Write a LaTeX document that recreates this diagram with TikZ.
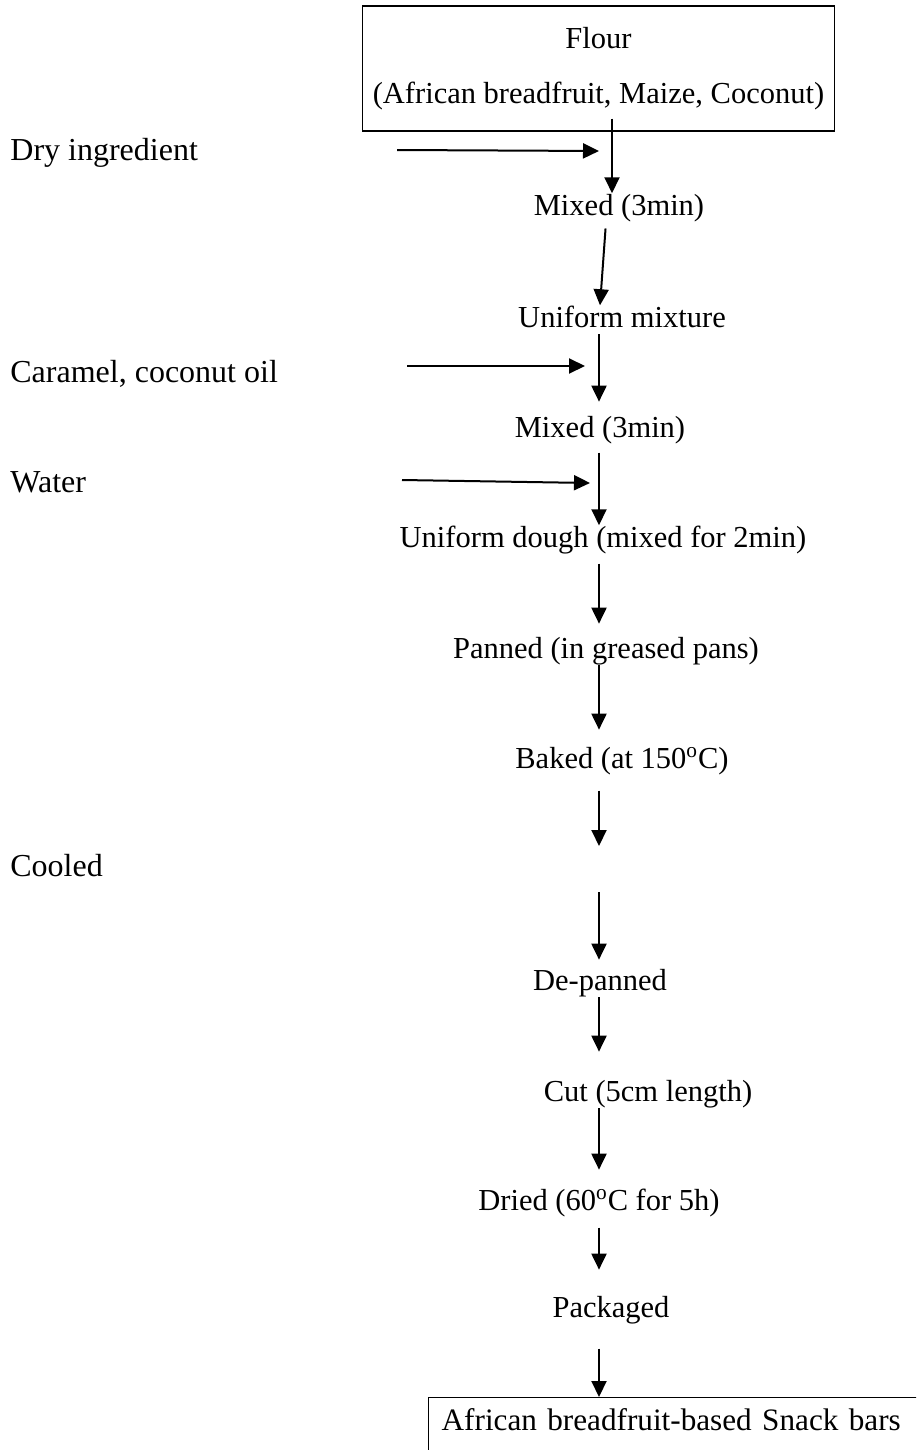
\documentclass[tikz,border=0pt]{standalone}
\usepackage{fontspec}
\setmainfont{Liberation Serif}
\usetikzlibrary{arrows.meta,positioning,calc}

\begin{document}
\fontsize{15.25}{18}\selectfont
\begin{tikzpicture}[x=0.5pt, y=-0.5pt,
  stage/.style={inner sep=0pt, text height=0.7em, text depth=0.22em, anchor=base},
  side/.style={inner sep=0pt, anchor=base west, font=\fontsize{16}{18}\selectfont},
  flow/.style={-{Triangle[length=8pt,width=7.5pt]}, line width=1pt}]
  \useasboundingbox (0,0) rectangle (916,1450);
  \clip (0,0) rectangle (916,1450);

  % Flour
  \node[draw, line width=0.7pt, minimum width=227.5pt, minimum height=62.5pt, align=center,
        font=\fontsize{15.25}{27.5}\selectfont] (flour) at (598.5,68.5)
        {Flour\\(African breadfruit, Maize, Coconut)};

  % Steps
  \node[stage] (mixA)  at (619,215)  {Mixed (3min)};
  \node[stage] (uniA)  at (622,327)  {Uniform mixture};
  \node[stage] (mixB)  at (600,437)  {Mixed (3min)};
  \node[stage] (dough) at (603,547)  {Uniform dough (mixed for 2min)};
  \node[stage] (pan)   at (606,658)  {Panned (in greased pans)};
  \node[stage] (bake)  at (622,768)  {Baked (at 150\textsuperscript{o}C)};
  \node[stage] (depan) at (600,990)  {De-panned};
  \node[stage] (cut)   at (648,1101) {Cut (5cm length)};
  \node[stage] (dried) at (599,1210) {Dried (60\textsuperscript{o}C for 5h)};
  \node[stage] (pack)  at (611,1317) {Packaged};

  % Snack bars
  \node[draw, line width=0.7pt, anchor=north west, inner xsep=6.5pt, inner ysep=5.4pt,
        text width=247pt, text depth=30pt, align=left, font=\fontsize{15.6}{18}\selectfont]
        (snack) at (428,1397) {African breadfruit-based Snack bars};

  % Side inputs
  \node[side] (dryin)   at (10,160) {Dry ingredient};
  \node[side] (caramel) at (10,382) {Caramel, coconut oil};
  \node[side] (water)   at (10,492) {Water};
  \node[side] (cool)    at (10,876) {Cooled};

  \coordinate (spine)  at (599,0);
  \coordinate (spineA) at (612,0);
  \coordinate (dryS) at (397,150);   \coordinate (dryE) at (599,151);
  \coordinate (carS) at (407,366);   \coordinate (carE) at (585,366);
  \coordinate (watS) at (402,480);   \coordinate (watE) at (590,483);
  \coordinate (coolTop) at (599,846);
  \coordinate (coolBot) at (599,892);

  % Arrows
  \draw[flow, shorten <=-6.5pt] (flour.south -| spineA) -- (mixA.north -| spineA);
  \draw[flow, shorten <=3.2pt] ([xshift=3.5pt]mixA.south -| spine) -- ([xshift=0.5pt]uniA.north -| spine);
  \draw[flow, shorten >=6.8pt] (uniA.south -| spine) -- (mixB.north -| spine);
  \draw[flow, shorten <=4.2pt] (mixB.south -| spine) -- (dough.north -| spine);
  \draw[flow, shorten <=4.7pt, shorten >=6.3pt] (dough.south -| spine) -- (pan.north -| spine);
  \draw[flow, shorten >=8.3pt] (pan.south -| spine) -- (bake.north -| spine);
  \draw[flow, shorten <=7.7pt] (bake.south -| spine) -- (coolTop);
  \draw[flow, shorten >=4.3pt] (coolBot) -- (depan.north -| spine);
  \draw[flow, shorten >=13.8pt] (depan.south -| spine) -- (cut.north -| spine);
  \draw[flow, shorten >=9.3pt] (cut.south -| spine) -- (dried.north -| spine);
  \draw[flow, shorten <=5.2pt, shorten >=12.8pt] (dried.south -| spine) -- (pack.north -| spine);
  \draw[flow, shorten <=12.2pt] (pack.south -| spine) -- (snack.north -| spine);

  \draw[flow] (dryS) -- (dryE);
  \draw[flow] (carS) -- (carE);
  \draw[flow] (watS) -- (watE);
\end{tikzpicture}
\end{document}
